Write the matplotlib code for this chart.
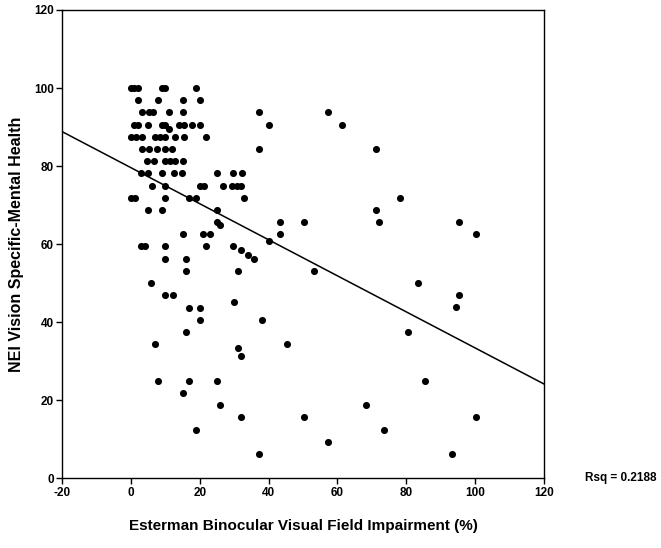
import numpy as np
import matplotlib
matplotlib.use("Agg")
import matplotlib.pyplot as plt

plt.rcParams['font.family'] = ['Liberation Sans', 'DejaVu Sans']
plt.rcParams['axes.unicode_minus'] = False

# visual field impairment (%) and NEI mental health score, read row by row
x_pct = [0, 1, 2, 9, 10, 19,
         2, 8, 15, 20,
         3.2, 5.4, 6.4, 11.2, 15, 37.1, 57.2,
         1, 2, 5.1, 9, 10, 14.1, 15.3, 17.7, 20, 40.2, 61.3,
         11.2,
         0, 1.6, 3.2, 7.1, 8.5, 10, 12.9, 15.3, 21.9,
         3.2, 5.4, 7.6, 9.8, 11.9, 37.1, 71.3,
         4.7, 6.6, 10, 11.4, 12.9, 15.1,
         2.9, 4.9, 9, 12.4, 14.8, 25, 29.8, 32.3,
         6.1, 9.8, 20, 21.3, 26.9, 29.5, 30.8, 32,
         0.1, 1.1, 10, 16.8, 19, 32.9, 78.2,
         5.1, 9, 25, 71.3,
         25, 26, 43.2, 50.2, 72.2, 95.2,
         15, 20.9, 22.9, 43.2, 100.2,
         40.2,
         3, 4, 10, 21.9, 29.8, 32, 33.9,
         10, 16, 35.9,
         16, 31, 53.1,
         5.9, 83.4,
         10, 12.1, 95.3, 30, 94.4,
         17, 20,
         20, 38.1,
         16, 80.4,
         7.1, 45.3, 31, 32.1,
         8, 17, 25, 85.4,
         15,
         26, 68.4,
         32.1, 50.2, 100.2,
         19, 73.4,
         57.3,
         37.1, 93.3]
y_score = [100] * 6 + [96.9] * 4 + [93.75] * 7 + [90.6] * 11 + [89.4] \
    + [87.5] * 9 + [84.4] * 7 + [81.25] * 6 + [78.1] * 8 + [75] * 8 \
    + [71.9] * 7 + [68.75] * 4 + [65.6, 64.9, 65.6, 65.6, 65.6, 65.6] \
    + [62.5] * 5 + [60.9] + [59.4] * 5 + [58.5, 57.2] + [56.25] * 3 \
    + [53.1] * 3 + [50] * 2 + [46.9] * 3 + [45.1, 43.9] + [43.75] * 2 \
    + [40.6] * 2 + [37.5] * 2 + [34.4, 34.4, 33.4, 31.3] + [25] * 4 \
    + [21.9] + [18.75] * 2 + [15.6] * 3 + [12.5] * 2 + [9.4] + [6.25] * 2

# regression line
fit_intercept = 79.6
fit_slope = -0.462
rsq_text = "Rsq = 0.2188"

fig = plt.figure(figsize=(6.61, 5.48), dpi=100)
ax = fig.add_axes([0.0938, 0.1272, 0.7292, 0.8546])

ax.scatter(x_pct, y_score, s=26, color='black', zorder=3, linewidths=0)

xl = np.array([-20, 120])
ax.plot(xl, fit_intercept + fit_slope * xl, color='black', lw=1.1)

ax.set_xlim(-20, 120)
ax.set_ylim(0, 120)
ax.set_xticks(range(-20, 121, 20))
ax.set_yticks(range(0, 121, 20))
ax.tick_params(direction='out', length=4, width=1, labelsize=8.5, pad=2)
for lab in ax.get_xticklabels() + ax.get_yticklabels():
    lab.set_fontweight('bold')
for sp in ax.spines.values():
    sp.set_linewidth(1)

ax.set_xlabel('Esterman Binocular Visual Field Impairment (%)',
              fontsize=11, fontweight='bold', labelpad=15)
ax.set_ylabel('NEI Vision Specific-Mental Health',
              fontsize=11.5, fontweight='bold', labelpad=7)

fig.text(0.885, 0.127, rsq_text, fontsize=8.5, fontweight='bold', va='center')

fig.savefig('out.png', dpi=100)
